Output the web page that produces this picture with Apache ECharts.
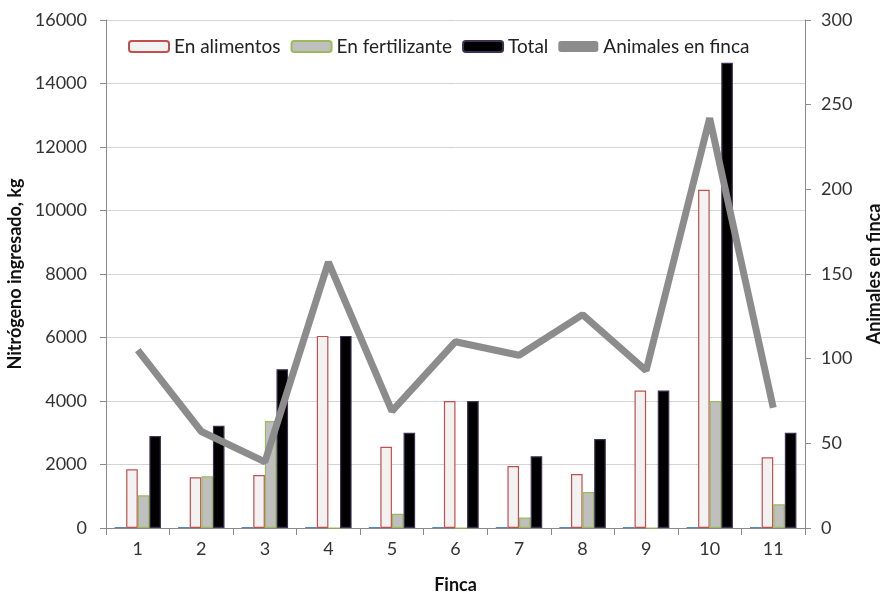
<!DOCTYPE html>
<html><head><meta charset="utf-8">
<script src="https://cdn.jsdelivr.net/npm/echarts@6/dist/echarts.min.js"></script>
<style>html,body{margin:0;padding:0;background:#fff}#c{width:884px;height:595px}</style>
</head><body><div id="c"></div>
<script>
const categories = ['1','2','3','4','5','6','7','8','9','10','11'];
const otro = [30,30,30,30,30,30,30,30,30,30,30];
const enAlimentos = [1850,1600,1670,6050,2560,4000,1950,1700,4330,10650,2230];
const enFertilizante = [1030,1630,3370,0,450,0,330,1130,0,4000,750];
const total = [2900,3220,5000,6050,3000,4000,2260,2800,4330,14650,3000];
const animales = [105,57,39,157,69,110,102,126,93,242,71];

const FONT = 'Lato';
const chart = echarts.init(document.getElementById('c'));
chart.setOption({
  animation:false,
  textStyle:{fontFamily:FONT},
  legend:{
    top:32, left:123, itemGap:10, itemWidth:40, itemHeight:11,
    textStyle:{fontSize:19, color:'#222', fontFamily:FONT},
    data:['En alimentos','En fertilizante','Total',
      {name:'Animales en finca', icon:'roundRect', itemStyle:{color:'#8c8c8c'}}]
  },
  grid:{left:106, right:79, top:20, bottom:67, outerBoundsMode:'none', containLabel:false},
  xAxis:{
    type:'category', data:categories,
    axisLine:{lineStyle:{color:'#8a8a8a'}},
    axisTick:{show:true, length:7, lineStyle:{color:'#8a8a8a'}},
    axisLabel:{fontSize:18, color:'#333', margin:12},
    name:'Finca', nameLocation:'middle', nameGap:48,
    nameTextStyle:{fontSize:18, fontWeight:'bold', color:'#111'}
  },
  yAxis:[{
    type:'value', min:0, max:16000, interval:2000,
    axisLine:{show:true, lineStyle:{color:'#8a8a8a'}},
    axisTick:{show:true, length:6, lineStyle:{color:'#8a8a8a'}},
    axisLabel:{fontSize:18, color:'#333', margin:19, formatter:v=>String(v)},
    splitLine:{lineStyle:{color:'#d4d4d4', width:1}},
    name:'Nitrógeno ingresado, kg', nameLocation:'middle', nameGap:80,
    nameTextStyle:{fontSize:18, fontWeight:'bold', color:'#111'}
  },{
    type:'value', min:0, max:300, interval:50, position:'right',
    axisLine:{show:true, lineStyle:{color:'#8a8a8a'}},
    axisTick:{show:true, length:6, lineStyle:{color:'#8a8a8a'}},
    axisLabel:{fontSize:18, color:'#333', margin:16, formatter:v=>String(v)},
    splitLine:{show:false},
    name:'Animales en finca', nameLocation:'middle', nameGap:60, nameRotate:90,
    nameTextStyle:{fontSize:18, fontWeight:'bold', color:'#111'}
  }],
  series:[
    {name:'otro', type:'bar', data:otro, barGap:'0%', barCategoryGap:'27%',
     itemStyle:{color:'#4f81bd'}},
    {name:'En alimentos', type:'bar', data:enAlimentos, barGap:'0%',
     itemStyle:{color:'#f2f2f2', borderColor:'#c0504d', borderWidth:1.2}},
    {name:'En fertilizante', type:'bar', data:enFertilizante, barGap:'0%',
     itemStyle:{color:'#bfbfbf', borderColor:'#9bbb59', borderWidth:1.2}},
    {name:'Total', type:'bar', data:total, barGap:'0%',
     itemStyle:{color:'#000', borderColor:'#3f3151', borderWidth:1.2}},
    {name:'Animales en finca', type:'line', yAxisIndex:1, data:animales,
     symbol:'none', lineStyle:{color:'#8c8c8c', width:7}, itemStyle:{color:'#8c8c8c'}, z:5}
  ]
});
</script></body></html>
